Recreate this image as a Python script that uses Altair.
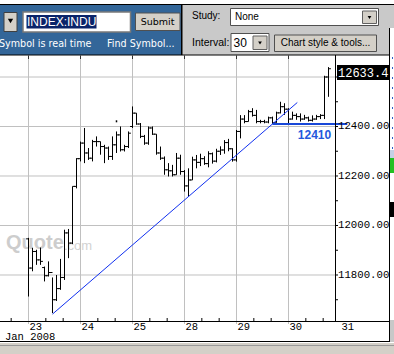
import altair as alt
import pandas as pd

# ---------------- data ----------------
day_labels = ["23", "24", "25", "28", "29", "30", "31"]
bars_per_day = 13

opens = [11946, 11828, 11895, 11861, 11830, 11797, 11810, 11700, 11745, 11790, 11970, 11929, 12158,
         12270, 12333, 12293, 12272, 12339, 12339, 12319, 12313, 12279, 12326, 12366, 12306, 12319,
         12400, 12454, 12410, 12360, 12333, 12394, 12369, 12293, 12272, 12225, 12221, 12205, 12272,
         12218, 12160, 12184, 12265, 12255, 12270, 12250, 12290, 12260, 12300, 12305, 12335, 12310,
         12265, 12380, 12430, 12420, 12460, 12445, 12420, 12420, 12418, 12435, 12415, 12455, 12480,
         12470, 12430, 12445, 12440, 12430, 12435, 12425, 12430, 12440, 12445, 12600]
highs = [11950, 11910, 11902, 11911, 11834, 11855, 11790, 11800, 11865, 11983, 11986, 12158, 12272,
         12339, 12394, 12313, 12346, 12360, 12339, 12326, 12319, 12360, 12380, 12400, 12326, 12380,
         12481, 12454, 12414, 12366, 12400, 12400, 12369, 12319, 12279, 12252, 12245, 12293, 12286,
         12224, 12231, 12278, 12285, 12290, 12280, 12300, 12295, 12310, 12320, 12345, 12350, 12312,
         12386, 12446, 12446, 12467, 12474, 12467, 12427, 12427, 12440, 12440, 12460, 12500, 12494,
         12474, 12460, 12453, 12453, 12447, 12440, 12445, 12447, 12450, 12605, 12640]
lows = [11713, 11815, 11841, 11841, 11774, 11794, 11646, 11695, 11740, 11780, 11868, 11925, 12150,
        12259, 12252, 12265, 12259, 12319, 12286, 12252, 12265, 12265, 12293, 12299, 12299, 12313,
        12394, 12407, 12353, 12326, 12326, 12366, 12286, 12265, 12205, 12198, 12198, 12205, 12205,
        12137, 12116, 12184, 12231, 12240, 12245, 12235, 12250, 12255, 12285, 12290, 12300, 12258,
        12258, 12352, 12413, 12420, 12440, 12413, 12413, 12413, 12413, 12410, 12415, 12453, 12447,
        12412, 12428, 12427, 12420, 12427, 12420, 12420, 12427, 12430, 12430, 12520]
closes = [11828, 11895, 11861, 11855, 11797, 11810, 11700, 11745, 11790, 11970, 11929, 12158, 12270,
          12333, 12293, 12272, 12339, 12339, 12319, 12313, 12279, 12326, 12366, 12306, 12319, 12373,
          12454, 12410, 12360, 12333, 12394, 12369, 12293, 12272, 12225, 12221, 12205, 12272, 12218,
          12160, 12184, 12265, 12255, 12270, 12250, 12290, 12260, 12300, 12305, 12335, 12310, 12265,
          12380, 12430, 12420, 12460, 12445, 12420, 12420, 12418, 12435, 12415, 12455, 12480, 12470,
          12430, 12445, 12440, 12430, 12435, 12425, 12430, 12440, 12445, 12600, 12633.4]

stray_u = [22]
stray_p = [12421]

trend_u = [6, 67.2]
trend_p = [11642, 12497]
support_u = [61, 79.7]
support_p = [12410, 12410]
support_text = ["12410"]
support_label_u = [71.5]
support_label_p = [12366]

last_price = [12633.4]
last_text = ["12633.4"]

grid_levels = [11800, 12000, 12200, 12400, 12600]
label_levels = [11800, 12000, 12200, 12400]
y_labels = ["11800.00", "12000.00", "12200.00", "12400.00"]
minor_levels = [11700, 11900, 12100, 12300, 12500]

# ---------------- scales ----------------
X = alt.Scale(domain=[-7, 76.75], range=[0.5, 335.5], nice=False, zero=False)
Y = alt.Scale(domain=[11614.1, 12688.9], range=[321, 55], nice=False, zero=False)

one = pd.DataFrame({"k": [0]})
MONO = "Liberation Mono"


def rect(x, y, x2, y2, fill, stroke=None, sw=1):
    kw = dict(fill=fill)
    if stroke:
        kw.update(stroke=stroke, strokeWidth=sw)
    return alt.Chart(one).mark_rect(**kw).encode(
        x=alt.value(x), y=alt.value(y), x2=alt.value(x2), y2=alt.value(y2))


def label(x, y, s, size, color="black", font="Liberation Sans", align="left", weight="normal"):
    return alt.Chart(one).mark_text(text=s, fontSize=size, font=font, color=color, align=align,
                                    baseline="middle", fontWeight=weight).encode(
        x=alt.value(x), y=alt.value(y))


def tri(x, y, size):
    return alt.Chart(one).mark_point(shape="triangle-down", filled=True, size=size,
                                     color="black", opacity=1).encode(x=alt.value(x), y=alt.value(y))


def hline(y, x, x2, color="black", sw=1):
    return alt.Chart(one).mark_rule(color=color, strokeWidth=sw).encode(
        y=alt.value(y), x=alt.value(x), x2=alt.value(x2))


def vline(x, y, y2, color="black", sw=1, dash=None):
    kw = dict(color=color, strokeWidth=sw)
    if dash:
        kw["strokeDash"] = dash
    return alt.Chart(one).mark_rule(**kw).encode(
        x=alt.value(x), y=alt.value(y), y2=alt.value(y2))


n = len(opens)
df = pd.DataFrame({"u": list(range(n)), "o": opens, "h": highs, "l": lows, "c": closes})
day_u = [i * bars_per_day for i in range(len(day_labels))]
days_df = pd.DataFrame({"u": day_u, "t": day_labels})
minor_u = [d * bars_per_day + j * bars_per_day / 3 for d in range(-1, 6) for j in (1, 2)]
minor_u = [m for m in minor_u if -7 <= m <= 76.75]

layers = []

# watermark
layers.append(label(6, 243, "Quote", 20, color="#cdcdcd", font="Liberation Sans", weight="bold"))
layers.append(label(64, 246, ".com", 13, color="#d2d2d2", font="Liberation Sans"))

# gridlines
layers.append(alt.Chart(pd.DataFrame({"p": grid_levels})).mark_rule(color="#c0c0c0").encode(
    y=alt.Y("p:Q", scale=Y, axis=None), x=alt.value(0), x2=alt.value(335)))
layers.append(alt.Chart(days_df[days_df.u <= 76]).mark_rule(color="#c0c0c0").encode(
    x=alt.X("u:Q", scale=X, axis=None), y=alt.value(56), y2=alt.value(324)))
layers.append(alt.Chart(days_df[days_df.u <= 76]).mark_rule(color="#303030").encode(
    x=alt.X("u:Q", scale=X, axis=None), y=alt.value(55.5), y2=alt.value(59)))

# OHLC bars
base = alt.Chart(df)
layers.append(base.mark_rule(color="black", strokeWidth=1).encode(
    x=alt.X("u:Q", scale=X, axis=None), y=alt.Y("l:Q", scale=Y, axis=None), y2="h:Q"))
layers.append(base.transform_calculate(ua="datum.u - 0.6").mark_rule(color="black", strokeWidth=1).encode(
    x=alt.X("ua:Q", scale=X, axis=None), x2="u:Q", y=alt.Y("o:Q", scale=Y, axis=None)))
layers.append(base.transform_calculate(ub="datum.u + 0.6").mark_rule(color="black", strokeWidth=1).encode(
    x=alt.X("u:Q", scale=X, axis=None), x2="ub:Q", y=alt.Y("c:Q", scale=Y, axis=None)))
layers.append(alt.Chart(pd.DataFrame({"u": stray_u, "p": stray_p})).mark_rule(
    color="black", strokeWidth=1.5, yOffset=-1, y2Offset=1).encode(
    x=alt.X("u:Q", scale=X, axis=None), y=alt.Y("p:Q", scale=Y, axis=None), y2="p:Q"))

# trendlines
layers.append(alt.Chart(pd.DataFrame({"u": trend_u, "p": trend_p})).mark_line(
    color="#1030f0", strokeWidth=1).encode(
    x=alt.X("u:Q", scale=X, axis=None), y=alt.Y("p:Q", scale=Y, axis=None)))
layers.append(alt.Chart(pd.DataFrame({"u": support_u, "p": support_p})).mark_line(
    color="#1848d8", strokeWidth=2).encode(
    x=alt.X("u:Q", scale=X, axis=None), y=alt.Y("p:Q", scale=Y, axis=None)))
layers.append(alt.Chart(pd.DataFrame({"u": support_label_u, "p": support_label_p, "t": support_text})).mark_text(
    font="Liberation Sans", fontWeight="bold", fontSize=12, color="#2458dc", align="center",
    baseline="middle").encode(
    x=alt.X("u:Q", scale=X, axis=None), y=alt.Y("p:Q", scale=Y, axis=None), text="t:N"))

# right axis
layers.append(vline(335.5, 55, 321.5))
layers.append(alt.Chart(pd.DataFrame({"p": grid_levels})).mark_rule(color="black").encode(
    y=alt.Y("p:Q", scale=Y, axis=None), x=alt.value(335.5), x2=alt.value(338)))
layers.append(alt.Chart(pd.DataFrame({"p": minor_levels})).mark_rule(color="black").encode(
    y=alt.Y("p:Q", scale=Y, axis=None), x=alt.value(335.5), x2=alt.value(338)))
layers.append(alt.Chart(pd.DataFrame({"p": label_levels, "t": y_labels})).mark_text(
    align="left", baseline="middle", font=MONO, fontSize=10.7, color="black").encode(
    x=alt.value(338), y=alt.Y("p:Q", scale=Y, axis=None), text="t:N"))

# last price box
lp = pd.DataFrame({"p": last_price, "t": last_text})
layers.append(alt.Chart(lp).mark_rect(color="black", yOffset=-3.7, y2Offset=11.3).encode(
    x=alt.value(337), x2=alt.value(389), y=alt.Y("p:Q", scale=Y, axis=None), y2="p:Q"))
layers.append(alt.Chart(lp).mark_text(color="white", font=MONO, fontSize=12, align="left",
                                      baseline="middle", dy=4).encode(
    x=alt.value(338), y=alt.Y("p:Q", scale=Y, axis=None), text="t:N"))

# x axis
layers.append(hline(321.5, 0, 389))
layers.append(alt.Chart(pd.DataFrame({"u": minor_u})).mark_rule(color="black").encode(
    x=alt.X("u:Q", scale=X, axis=None), y=alt.value(318), y2=alt.value(321)))
layers.append(alt.Chart(days_df).mark_text(align="left", baseline="alphabetic", dx=1, font=MONO,
                                           fontSize=10.5, color="black").encode(
    x=alt.X("u:Q", scale=X, axis=None), y=alt.value(330), text="t:N"))
layers.append(alt.Chart(one).mark_text(text="Jan 2008", align="left", baseline="alphabetic",
                                       font=MONO, fontSize=10.5, color="black").encode(
    x=alt.value(5), y=alt.value(339.5)))

# bottom bar
layers.append(hline(341.5, 0, 390))
layers.append(rect(0, 342, 394, 354, "#d4d0c8"))
layers.append(hline(342.5, 0, 394, color="#ffffff"))
layers.append(hline(345.5, 0, 394, color="#9a9a9a"))

# right strip
layers.append(rect(390, 150, 394, 158, "#c4d0e4"))
layers.append(rect(390, 158, 394, 173, "#22c022"))
layers.append(rect(390, 202, 394, 217, "black"))
layers.append(rect(390, 320, 394, 342, "#c8c8c8"))
layers.append(vline(392.5, 57, 150, color="#3060c8", dash=[2, 8]))
layers.append(vline(389.5, 28, 342))

# header
layers.append(rect(0, 5, 181, 55, "#336699"))
layers.append(rect(181, 5, 394, 55, "#c9c9c9"))
layers.append(rect(390, 28, 394, 55, "white"))
layers.append(vline(389.5, 28, 55))
layers.append(rect(181, 5, 182.5, 55, "black"))
layers.append(hline(4.5, 0, 394))
layers.append(hline(55, 0, 390))

# blue panel widgets
layers.append(rect(4, 12.5, 17, 31.5, "#d4d0c8", stroke="#404040"))
layers.append(tri(10.5, 21, 28))
layers.append(rect(23, 12, 130.5, 32, "white", stroke="#7a7a7a", sw=1.5))
layers.append(rect(26.5, 15, 96.5, 28.5, "#0a246a"))
layers.append(label(27, 22, "INDEX:INDU", 12, color="white"))
layers.append(rect(135.5, 13, 180, 30.5, "#d4d0c8", stroke="#505050"))
layers.append(label(157.5, 22, "Submit", 9.5, font="DejaVu Sans", align="center"))
layers.append(label(-1, 43.5, "Symbol is real time", 9.6, color="white", font="DejaVu Sans"))
layers.append(label(107, 43.5, "Find Symbol...", 9.6, color="white", font="DejaVu Sans"))

# grey panel widgets
layers.append(label(192, 16, "Study:", 10))
layers.append(rect(230.5, 8.5, 378.5, 25.5, "white", stroke="#505050"))
layers.append(label(235, 17, "None", 10))
layers.append(rect(362.5, 11, 376.5, 23.5, "#d4d0c8", stroke="#606060"))
layers.append(tri(369.5, 17.5, 14))
layers.append(label(192, 42.5, "Interval:", 10.5))
layers.append(rect(231, 33.5, 269, 51.5, "white", stroke="#505050"))
layers.append(label(233.5, 43, "30", 12))
layers.append(rect(253, 36, 267, 49.5, "#d4d0c8", stroke="#606060"))
layers.append(tri(260, 43, 14))
layers.append(rect(274.5, 35, 376.5, 51.5, "#d4d0c8", stroke="#505050"))
layers.append(label(325.5, 43, "Chart style & tools...", 10, align="center"))

chart = alt.layer(*layers).properties(
    width=394, height=354,
    autosize=alt.AutoSizeParams(type="none"),
    padding=0,
    background="white",
).configure_view(strokeWidth=0)

chart.save("out.html", embed_options={"renderer": "svg", "actions": False})
